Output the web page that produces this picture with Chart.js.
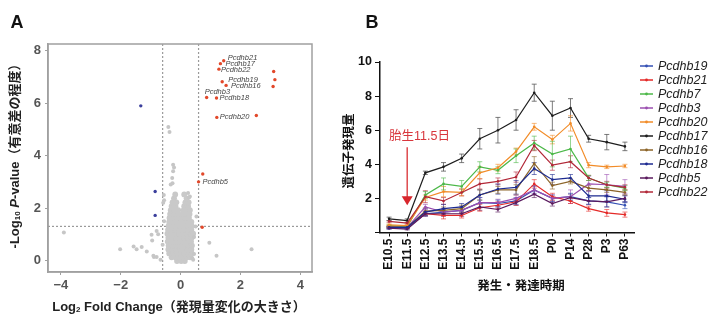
<!DOCTYPE html>
<html>
<head>
<meta charset="utf-8">
<script src="https://cdn.jsdelivr.net/npm/chart.js@4"></script>
<style>
  html, body { margin: 0; padding: 0; background: #fff; }
  #wrap { position: relative; width: 720px; height: 330px; }
  canvas { position: absolute; top: 0; }
  #volcano { left: 0; }
  #timeline { left: 330px; }
</style>
</head>
<body>
<div id="wrap">
  <canvas id="volcano" width="330" height="330"></canvas>
  <canvas id="timeline" width="390" height="330"></canvas>
</div>
<script>
const LATIN = '"Liberation Sans", "Noto Sans CJK JP", sans-serif';

// ---- panel A: volcano plot ----
const xTicksA = [-4, -2, 0, 2, 4];
const yTicksA = [0, 2, 4, 6, 8];
const foldCut = 0.6;
const pCut = 1.3;

// dense centre of the cloud, one row per -log10 p level
const coreRows = [
  [-0.02, [-0.12, 0.02, 0.14]],
  [0.12, [-0.3, -0.17, -0.04, 0.09, 0.21, 0.32]],
  [0.27, [-0.38, -0.25, -0.12, 0.01, 0.14, 0.26, 0.37]],
  [0.42, [-0.41, -0.28, -0.15, -0.02, 0.11, 0.24, 0.36]],
  [0.57, [-0.4, -0.27, -0.14, -0.01, 0.12, 0.25, 0.38]],
  [0.72, [-0.43, -0.3, -0.17, -0.04, 0.09, 0.22, 0.35]],
  [0.87, [-0.41, -0.28, -0.15, -0.02, 0.11, 0.24, 0.37]],
  [1.02, [-0.44, -0.31, -0.18, -0.05, 0.08, 0.21, 0.34, 0.42]],
  [1.17, [-0.42, -0.29, -0.16, -0.03, 0.1, 0.23, 0.36]],
  [1.32, [-0.4, -0.27, -0.14, -0.01, 0.12, 0.25, 0.37]],
  [1.47, [-0.38, -0.25, -0.12, 0.01, 0.14, 0.27, 0.36]],
  [1.62, [-0.37, -0.24, -0.11, 0.02, 0.15, 0.28]],
  [1.77, [-0.35, -0.22, -0.09, 0.06, 0.18, 0.3]],
  [1.92, [-0.33, -0.2, -0.08, 0.1, 0.22, 0.31]],
  [2.07, [-0.3, -0.17, 0.12, 0.25]],
  [2.22, [-0.27, -0.14, 0.16, 0.27]],
  [2.37, [-0.22, 0.2]],
  [2.52, [-0.18, 0.12]]
];

const grayPoints = [
  [-0.41, 5.09], [-0.37, 4.9], [-3.9, 1.07], [-2.02, 0.43], [-1.57, 0.53],
  [-1.47, 0.43], [-1.3, 0.51], [-1.13, 0.34], [-0.95, 0.76], [-0.89, 0.13],
  [-0.8, 1.12], [-0.75, 1.0], [-0.67, 0.03], [0.96, 0.68], [1.2, 0.18],
  [2.37, 0.43], [-0.25, 3.65], [-0.22, 3.55], [-0.27, 2.95], [-0.28, 3.15],
  [-0.25, 3.4], [-0.33, 2.9], [-0.56, 2.5], [-0.55, 2.3], [-0.58, 2.2],
  [0.25, 2.57], [0.28, 2.4], [0.31, 2.44], [0.53, 1.68], [0.5, 1.3],
  [0.45, 0.9], [0.39, 0.09], [0.45, 0.25], [-0.97, 0.98], [-0.91, 0.18],
  [-0.8, 0.13], [-0.6, 0.6], [-0.55, 1.5], [0.42, 0.03]
];

const downPoints = [[-1.33, 5.9], [-0.85, 2.63], [-0.85, 1.72]];

const upPoints = [
  [1.44, 7.62], [1.33, 7.51], [1.28, 7.3], [1.39, 6.82], [1.52, 6.68],
  [0.87, 6.22], [1.2, 6.2], [1.21, 5.46], [0.6, 3.0],
  [2.53, 5.53], [3.11, 7.21], [3.15, 6.9], [3.09, 6.64], [0.74, 3.3], [0.72, 1.27]
];
const upNames = ['Pcdhb21', 'Pcdhb17', 'Pcdhb22', 'Pcdhb19', 'Pcdhb16',
  'Pcdhb3', 'Pcdhb18', 'Pcdhb20', 'Pcdhb5'];
// label offsets in px from each named point
const upNameShift = [[4, -3], [5, 0], [2, 1], [6, -2], [5, 0], [-2, -6], [3, 0], [3, 0], [4, 0]];

const toXY = p => ({ x: p[0], y: p[1] });
const corePoints = [];
coreRows.forEach(([y, xs]) => xs.forEach(x => corePoints.push({ x: x, y: y })));

function fixedTicks(values) {
  return scale => { scale.ticks = values.map(v => ({ value: v })); };
}

const volcanoDecor = {
  id: 'volcanoDecor',
  beforeDatasetsDraw(chart) {
    const { ctx, chartArea: a, scales: { x, y } } = chart;
    ctx.save();
    ctx.strokeStyle = '#9a9a9a';
    ctx.lineWidth = 1.2;
    ctx.setLineDash([2, 2]);
    [-foldCut, foldCut].forEach(v => {
      const px = x.getPixelForValue(v);
      ctx.beginPath(); ctx.moveTo(px, a.top); ctx.lineTo(px, a.bottom); ctx.stroke();
    });
    const py = y.getPixelForValue(pCut);
    ctx.beginPath(); ctx.moveTo(a.left, py); ctx.lineTo(a.right, py); ctx.stroke();
    ctx.restore();
  },
  afterDraw(chart) {
    const { ctx, chartArea: a, scales: { x, y } } = chart;
    ctx.save();
    // box round the plot
    ctx.strokeStyle = '#a0a0a0';
    ctx.lineWidth = 1.5;
    ctx.strokeRect(a.left, a.top, a.right - a.left, a.bottom - a.top);

    // gene names next to the highlighted points
    ctx.fillStyle = '#444';
    ctx.font = 'italic 7.5px ' + LATIN;
    ctx.textBaseline = 'middle';
    ctx.textAlign = 'left';
    upNames.forEach((name, i) => {
      const px = x.getPixelForValue(upPoints[i][0]) + upNameShift[i][0];
      const py = y.getPixelForValue(upPoints[i][1]) + upNameShift[i][1];
      ctx.fillText(name, px, py);
    });

    // panel letter
    ctx.fillStyle = '#111';
    ctx.font = 'bold 18px ' + LATIN;
    ctx.textAlign = 'center';
    ctx.fillText('A', 17, 23);

    // x title with subscript
    ctx.fillStyle = '#222';
    const xParts = [
      ['Log', 'bold 13px ' + LATIN, 0],
      ['2', 'bold 8px ' + LATIN, 3],
      [' Fold Change（発現量変化の大きさ）', 'bold 13px ' + LATIN, 0]
    ];
    drawParts(ctx, xParts, 179, 307);

    // y title, rotated
    ctx.translate(15, 153);
    ctx.rotate(-Math.PI / 2);
    const yParts = [
      ['-Log', 'bold 13px ' + LATIN, 0],
      ['10', 'bold 8px ' + LATIN, 3],
      [' ', 'bold 13px ' + LATIN, 0],
      ['P', 'italic bold 13px ' + LATIN, 0],
      ['-value（有意差の程度）', 'bold 13px ' + LATIN, 0]
    ];
    drawParts(ctx, yParts, 0, 0);
    ctx.restore();
  }
};

function drawParts(ctx, parts, cx, cy) {
  let total = 0;
  parts.forEach(p => { ctx.font = p[1]; total += ctx.measureText(p[0]).width; });
  let px = cx - total / 2;
  ctx.textAlign = 'left';
  ctx.textBaseline = 'middle';
  parts.forEach(p => {
    ctx.font = p[1];
    ctx.fillText(p[0], px, cy + p[2]);
    px += ctx.measureText(p[0]).width;
  });
}

new Chart(document.getElementById('volcano'), {
  type: 'scatter',
  data: {
    datasets: [
      { data: grayPoints.map(toXY), backgroundColor: '#c6c6c6', borderWidth: 0, pointRadius: 2 },
      { data: corePoints, backgroundColor: '#c9c9c9', borderWidth: 0, pointRadius: 2.9 },
      { data: downPoints.map(toXY), backgroundColor: '#3b3f9c', borderWidth: 0, pointRadius: 1.7 },
      { data: upPoints.map(toXY), backgroundColor: '#e2482a', borderWidth: 0, pointRadius: 1.7 }
    ]
  },
  options: {
    responsive: false,
    animation: false,
    events: [],
    layout: { padding: { top: 44, right: 18, left: 0, bottom: 0 } },
    plugins: { legend: { display: false }, tooltip: { enabled: false } },
    scales: {
      x: {
        min: -4.43, max: 4.39,
        afterBuildTicks: fixedTicks(xTicksA),
        afterFit: s => { s.height = 58; },
        grid: { drawOnChartArea: false, tickLength: 3, color: '#a0a0a0' },
        border: { color: '#a0a0a0', width: 1.5 },
        ticks: {
          padding: 3, color: '#555',
          font: { family: LATIN, size: 13, weight: 'bold' },
          callback: v => v < 0 ? '\u2212' + (-v) : String(v)
        }
      },
      y: {
        min: -0.44, max: 8.26,
        afterBuildTicks: fixedTicks(yTicksA),
        afterFit: s => { s.width = 48; },
        grid: { drawOnChartArea: false, tickLength: 3, color: '#a0a0a0' },
        border: { color: '#a0a0a0', width: 1.5 },
        ticks: {
          padding: 4, color: '#555',
          font: { family: LATIN, size: 13, weight: 'bold' }
        }
      }
    }
  },
  plugins: [volcanoDecor]
});

// ---- panel B: expression over development ----
const stages = ['E10.5', 'E11.5', 'E12.5', 'E13.5', 'E14.5', 'E15.5', 'E16.5',
  'E17.5', 'E18.5', 'P0', 'P14', 'P28', 'P3', 'P63'];
const yTicksB = [0, 2, 4, 6, 8, 10];

const geneNames = ['Pcdhb19', 'Pcdhb21', 'Pcdhb7', 'Pcdhb3', 'Pcdhb20',
  'Pcdhb17', 'Pcdhb16', 'Pcdhb18', 'Pcdhb5', 'Pcdhb22'];
const geneColors = ['#3450b4', '#e42a28', '#4cb848', '#9b4fb0', '#f28c28',
  '#1e1e1e', '#8c6428', '#1c2a90', '#5a1a5e', '#b22838'];

const pcdhb19 = [0.25, 0.25, 1.1, 1.2, 1.3, 1.75, 1.7, 1.85, 2.5, 2.0, 2.1, 1.85, 1.8, 1.6];
const pcdhb21 = [0.35, 0.35, 1.1, 1.0, 1.0, 1.45, 1.6, 1.8, 2.85, 2.1, 1.85, 1.4, 1.15, 1.05];
const pcdhb7 = [0.4, 0.35, 2.2, 2.85, 2.7, 3.85, 3.65, 4.5, 5.25, 4.6, 4.9, 3.2, 2.8, 2.6];
const pcdhb3 = [0.3, 0.3, 1.5, 1.2, 1.3, 1.75, 1.75, 2.0, 2.5, 2.0, 2.1, 2.85, 2.8, 2.7];
const pcdhb20 = [0.45, 0.4, 2.05, 2.4, 2.35, 3.5, 3.8, 4.75, 6.2, 5.45, 6.4, 3.95, 3.85, 3.9];
const pcdhb17 = [0.8, 0.7, 3.5, 3.85, 4.35, 5.5, 6.0, 6.6, 8.2, 6.85, 7.3, 5.5, 5.3, 5.05];
const pcdhb16 = [0.3, 0.3, 1.25, 1.3, 1.4, 2.2, 2.5, 2.5, 4.05, 2.75, 3.0, 2.6, 2.5, 2.35];
const pcdhb18 = [0.3, 0.3, 1.2, 1.4, 1.5, 2.2, 2.55, 2.65, 3.75, 3.1, 3.2, 2.15, 2.15, 1.95];
const pcdhb5 = [0.25, 0.2, 1.1, 1.1, 1.1, 1.5, 1.35, 1.75, 2.25, 1.7, 2.05, 1.85, 1.8, 2.0];
const pcdhb22 = [0.65, 0.55, 2.1, 1.85, 2.35, 2.85, 3.0, 3.25, 5.1, 3.95, 4.15, 3.2, 2.8, 2.65];

const err19 = [0.05, 0.05, 0.15, 0.15, 0.15, 0.3, 0.2, 0.2, 0.25, 0.2, 0.2, 0.2, 0.3, 0.2];
const err21 = [0.05, 0.05, 0.15, 0.2, 0.15, 0.2, 0.2, 0.2, 0.25, 0.2, 0.15, 0.15, 0.2, 0.15];
const err7 = [0.05, 0.05, 0.2, 0.35, 0.35, 0.3, 0.2, 0.4, 0.4, 0.75, 0.75, 0.15, 0.15, 0.15];
const err3 = [0.05, 0.05, 0.15, 0.2, 0.2, 0.3, 0.2, 0.2, 0.2, 0.2, 0.4, 0.45, 0.6, 0.4];
const err20 = [0.05, 0.05, 0.15, 0.3, 0.2, 0.35, 0.2, 0.2, 0.2, 0.25, 0.45, 0.15, 0.1, 0.1];
const err17 = [0.1, 0.1, 0.1, 0.25, 0.25, 0.6, 0.75, 0.6, 0.5, 0.85, 0.55, 0.2, 0.45, 0.25];
const err16 = [0.05, 0.05, 0.2, 0.2, 0.2, 0.3, 0.2, 0.3, 0.4, 0.2, 0.15, 0.15, 0.15, 0.15];
const err18 = [0.05, 0.05, 0.2, 0.25, 0.2, 0.3, 0.3, 0.4, 0.35, 0.3, 0.2, 0.3, 0.3, 0.2];
const err5 = [0.05, 0.05, 0.1, 0.15, 0.15, 0.2, 0.15, 0.15, 0.2, 0.15, 0.2, 0.2, 0.3, 0.2];
const err22 = [0.05, 0.05, 0.35, 0.2, 0.2, 0.3, 0.2, 0.3, 0.3, 0.3, 0.35, 0.15, 0.2, 0.15];

const geneValues = [pcdhb19, pcdhb21, pcdhb7, pcdhb3, pcdhb20, pcdhb17, pcdhb16, pcdhb18, pcdhb5, pcdhb22];
const geneErrors = [err19, err21, err7, err3, err20, err17, err16, err18, err5, err22];

// red marker for the E11.5 sampling point
const markStage = 'E11.5';
const markLabel = '胎生11.5日';
const markLabelAt = 5.65;
const markTop = 5.0;
const markTip = 1.6;

function fade(hex, alpha) {
  const n = parseInt(hex.slice(1), 16);
  return `rgba(${(n >> 16) & 255}, ${(n >> 8) & 255}, ${n & 255}, ${alpha})`;
}

const errorBars = {
  id: 'errorBars',
  beforeDatasetsDraw(chart) {
    const { ctx, scales: { y } } = chart;
    ctx.save();
    ctx.lineWidth = 1;
    chart.data.datasets.forEach((ds, i) => {
      const meta = chart.getDatasetMeta(i);
      const errs = geneErrors[geneNames.indexOf(ds.label)];
      ctx.strokeStyle = ds.label === 'Pcdhb17' ? 'rgba(90,90,90,0.8)' : fade(ds.borderColor, 0.6);
      meta.data.forEach((pt, j) => {
        const top = y.getPixelForValue(ds.data[j] + errs[j]);
        const bot = y.getPixelForValue(ds.data[j] - errs[j]);
        ctx.beginPath();
        ctx.moveTo(pt.x, top); ctx.lineTo(pt.x, bot);
        ctx.moveTo(pt.x - 2.5, top); ctx.lineTo(pt.x + 2.5, top);
        ctx.moveTo(pt.x - 2.5, bot); ctx.lineTo(pt.x + 2.5, bot);
        ctx.stroke();
      });
    });
    ctx.restore();
  }
};

const timelineDecor = {
  id: 'timelineDecor',
  afterDraw(chart) {
    const { ctx, scales: { x, y } } = chart;
    ctx.save();

    // arrow for E11.5
    const ax = x.getPixelForValue(stages.indexOf(markStage));
    const yTop = y.getPixelForValue(markTop);
    const yTip = y.getPixelForValue(markTip);
    ctx.strokeStyle = '#de4a4e';
    ctx.fillStyle = '#d8262c';
    ctx.lineWidth = 1.5;
    ctx.beginPath(); ctx.moveTo(ax, yTop); ctx.lineTo(ax, yTip - 8); ctx.stroke();
    ctx.beginPath();
    ctx.moveTo(ax - 5.5, yTip - 9); ctx.lineTo(ax + 5.5, yTip - 9); ctx.lineTo(ax, yTip);
    ctx.closePath(); ctx.fill();
    ctx.fillStyle = '#d8363c';
    ctx.font = '12.5px ' + LATIN;
    ctx.textAlign = 'left';
    ctx.textBaseline = 'middle';
    ctx.fillText(markLabel, x.getPixelForValue(0), y.getPixelForValue(markLabelAt));

    // legend on the right, in gene order
    ctx.font = 'italic 12.5px ' + LATIN;
    geneNames.forEach((name, i) => {
      const ly = 66 + i * 14;
      ctx.strokeStyle = geneColors[i];
      ctx.fillStyle = geneColors[i];
      ctx.lineWidth = 1.5;
      ctx.beginPath(); ctx.moveTo(310, ly); ctx.lineTo(323, ly); ctx.stroke();
      ctx.beginPath(); ctx.arc(316.5, ly, 1.4, 0, Math.PI * 2); ctx.fill();
      ctx.fillStyle = '#222';
      ctx.fillText(name, 328, ly + 0.5);
    });

    // panel letter and titles
    ctx.fillStyle = '#111';
    ctx.font = 'bold 18px ' + LATIN;
    ctx.textAlign = 'center';
    ctx.fillText('B', 42, 23);
    ctx.font = 'bold 12.5px ' + LATIN;
    ctx.fillText('発生・発達時期', 191, 287);
    ctx.translate(20, 151);
    ctx.rotate(-Math.PI / 2);
    ctx.fillText('遺伝子発現量', 0, 0);
    ctx.restore();
  }
};

new Chart(document.getElementById('timeline'), {
  type: 'line',
  data: {
    labels: stages,
    datasets: geneNames.map((name, i) => ({
      label: name,
      data: geneValues[i],
      borderColor: geneColors[i],
      backgroundColor: geneColors[i],
      borderWidth: 1.2,
      pointRadius: 1.3,
      pointBorderWidth: 0,
      tension: 0
    })).reverse()
  },
  options: {
    responsive: false,
    animation: false,
    events: [],
    layout: { padding: { top: 62, right: 86, left: 0, bottom: 0 } },
    plugins: { legend: { display: false }, tooltip: { enabled: false } },
    scales: {
      x: {
        offset: true,
        afterFit: s => { s.height = 97.5; },
        grid: { drawOnChartArea: false, tickLength: 4, color: '#111', offset: false },
        border: { color: '#111', width: 1.5 },
        ticks: {
          minRotation: 90, maxRotation: 90, padding: 2, color: '#111',
          font: { family: LATIN, size: 12, weight: 'bold' }
        }
      },
      y: {
        min: 0, max: 10,
        afterBuildTicks: fixedTicks(yTicksB),
        afterFit: s => { s.width = 50; },
        grid: { drawOnChartArea: false, tickLength: 5, color: '#111' },
        border: { color: '#111', width: 1.5 },
        ticks: {
          padding: 3, color: '#111',
          font: { family: LATIN, size: 12.5, weight: 'bold' },
          callback: v => v === 0 ? '' : String(v)
        }
      }
    }
  },
  plugins: [errorBars, timelineDecor]
});
</script>
</body>
</html>
